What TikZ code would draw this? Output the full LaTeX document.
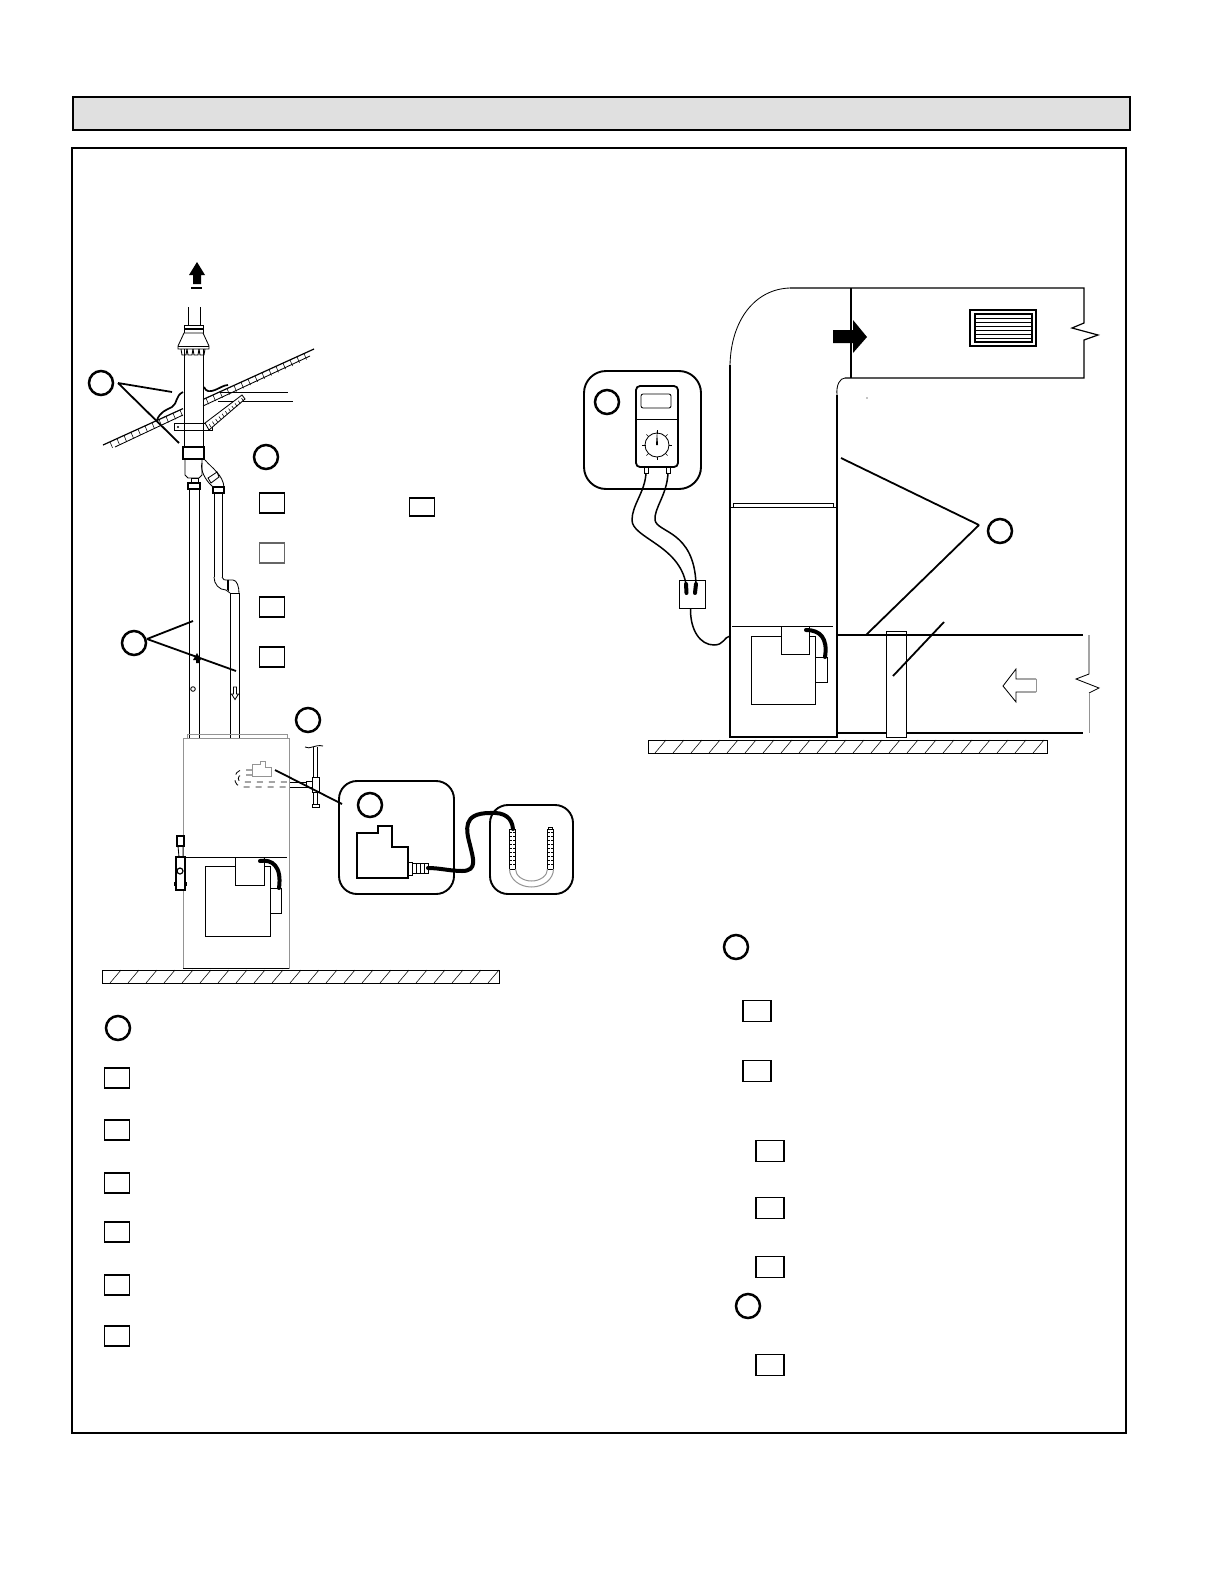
\documentclass[tikz,border=0pt]{standalone}
\usetikzlibrary{calc}
\definecolor{headfill}{HTML}{E0E0E0}
\tikzset{
 tagc/.style={draw,circle,line width=1.25pt,minimum size=12pt,inner sep=0pt,outer sep=0pt},
 sqa/.style={draw,rectangle,line width=0.9pt,minimum width=12.5pt,minimum height=10pt,inner sep=0pt,outer sep=0pt},
 sqb/.style={draw,rectangle,line width=0.9pt,minimum width=14pt,minimum height=10.5pt,inner sep=0pt,outer sep=0pt},
 thin1/.style={line width=0.42pt},
 med/.style={line width=0.6pt},
 lead/.style={line width=0.9pt},
 hose/.style={line width=2pt,line cap=round},
 wire/.style={line width=0.75pt},
 grayl/.style={line width=0.5pt,draw=black!42},
 rbox/.style={line width=0.95pt,rounded corners=9pt},
 hatchl/.style={line width=0.28pt}
}
\begin{document}
\begin{tikzpicture}[x=0.5pt,y=-0.5pt]
\useasboundingbox (0,0) rectangle (1224,1584);
\fill[white] (0,0) rectangle (1224,1584);
% frames
\draw[fill=headfill,line width=1pt] (73,97) rectangle (1130,130);
\draw[line width=1.4pt] (72,148) rectangle (1126,1433);
% ---------- tags and squares
\node[tagc] (cA) at (101,383) {};
\node[tagc] (cB) at (266,457) {};
\node[tagc] (cC) at (134,643) {};
\node[tagc] (cD) at (308,720) {};
\node[tagc] (cE) at (370,805) {};
\node[tagc] (cF) at (607,402) {};
\node[tagc] (cG) at (1000,531) {};
\node[tagc] (cH) at (736,947) {};
\node[tagc] (cI) at (118,1028) {};
\node[tagc] (cJ) at (748,1306) {};
\node[sqa] (s1) at (272,503) {};
\node[sqa,minimum height=9pt] (s2) at (422,507) {};
\node[sqa,draw=black!60] (s3) at (272,553) {};
\node[sqa] (s4) at (272,607) {};
\node[sqa] (s5) at (272,657) {};
\foreach \n/\y in {l1/1078,l2/1130,l3/1183,l4/1232,l5/1285,l6/1336}
  \node[sqa] (\n) at (117,\y) {};
\foreach \n/\x/\y in {r1/757/1011,r2/757/1071,r3/770/1151,r4/770/1208,r5/770/1267,r6/770/1365}
  \node[sqb] (\n) at (\x,\y) {};
% ---------- left: roof
\draw[med] (103,445) -- (183,408.6);
\draw[med] (203,399.5) -- (314,349);
\draw[thin1] (115,447) -- (183,415);
\draw[thin1] (203,406) -- (310,356);
\foreach \x in {110,117,...,180}{\pgfmathsetmacro\yy{445-0.455*(\x-103)}
  \draw[hatchl] (\x,\yy) -- (\x+2.5,\yy+6);}
\foreach \x in {206,213,...,308}{\pgfmathsetmacro\yy{445-0.455*(\x-103)}
  \draw[hatchl] (\x,\yy) -- (\x+2.5,\yy+6);}
\draw[thin1] (220,392) -- (288,392);
\draw[thin1] (218,401) -- (293,401);
% flashing
\draw[line width=0.85pt] (157,420) .. controls (160,412) and (166,410) .. (172,407) .. controls (178,403) and (175,396) .. (183,392);
\draw[line width=0.85pt] (204,387) .. controls (206,392) and (210,392) .. (215,390) .. controls (220,388) and (224,385) .. (228,385);
% vent pipe and exhaust arrow
\begin{scope}[xshift=0.5pt]
\fill (196,262) -- (204,275) -- (200,275) -- (200,284) -- (192,284) -- (192,275) -- (188,275) -- cycle;
\draw[line width=0.9pt] (190,288) -- (201,288);
\draw[thin1] (187,307) -- (187,325) (199,307) -- (199,325);
\draw[thin1] (183,325) rectangle (202,333);
\draw[med] (183,329) -- (202,329);
\draw[thin1,fill=white] (183,333) -- (177,346) -- (177,349) -- (208,349) -- (208,346) -- (202,333) -- cycle;
\draw[thin1] (177,346) -- (208,346);
\foreach \x in {180,186,192,198}
 \draw[thin1] (\x,349) -- (\x+1,355) -- (\x+5,355) -- (\x+6,349);
\draw[thin1] (183,349) -- (183,447) (202,349) -- (202,447);
\draw[thin1] (173,423) rectangle (211,430);
\fill (177,427) circle (1.2);
\draw[thin1,fill=white] (204,423) -- (241,395) -- (244,399) -- (208,430) -- cycle;
\foreach \t in {0.06,0.15,...,1.0}
  \draw[hatchl] ($(206,426)!\t!(242,397)$) -- ++(2,3);
\draw[med] (182,447) rectangle (203,459);
\draw[thin1] (184,459) -- (184,475) -- (187,478) -- (198,478) -- (201,475) -- (201,459);
\draw[thin1] (190,478) rectangle (197,483);
\draw[med] (187,483) rectangle (199,489);
\draw[thin1] (188,489) -- (188,738) (198,489) -- (198,738);
\end{scope}
% branch elbow
\draw[thin1] (205,460) .. controls (212,468) and (223,475) .. (224,487);
\draw[thin1] (202,463) .. controls (200,470) and (205,480) .. (213,487);
\draw[thin1,fill=white] (208,478) -- (217,472) -- (219,477) -- (211,483) -- cycle;
\draw[med] (213,487) rectangle (224,493);
\draw[thin1] (214,493) -- (214,577) (222,493) -- (222,577);
\draw[thin1] (214,577) .. controls (214,584) and (219,590) .. (226,590) -- (230,593);
\draw[thin1] (222,577) .. controls (223,580) and (224,580) .. (228,580);
\draw[thin1] (227,580) -- (227,590) (228.5,580) -- (228.5,591);
\draw[thin1] (228,580) -- (233,580) .. controls (237,580) and (239,587) .. (239,593);
\draw[thin1] (230,593) -- (239,593);
\draw[thin1] (230,593) -- (230,738) (239,593) -- (239,738);
% flow marks in pipes
\fill (197,653) -- (201,660) -- (199,660) -- (199,663) -- (196,663) -- (196,660) -- (193,660) -- cycle;
\draw[thin1] (193,689) circle (2.3);
\draw[thin1,fill=white] (233.5,687) -- (236.5,687) -- (236.5,694) -- (238.5,694) -- (235,699.5) -- (231.5,694) -- (233.5,694) -- cycle;
% leaders left
\coordinate (la1) at (172,392); \coordinate (la2) at (179,443);
\coordinate (la0) at ($(cA.center)+(17,0)$);
\draw[lead] (la0) -- (la1) (la0) -- (la2);
\coordinate (lc0) at ($(cC.center)+(13,-4)$);
\coordinate (lc1) at (193,621); \coordinate (lc2) at (236,671);
\draw[lead] (lc0) -- (lc1) (lc0) -- (lc2);
% left furnace
\draw[grayl] (183,738) rectangle (289,968);
\draw[grayl] (187,738) -- (187,734) -- (287,734) -- (287,738);
\draw[thin1] (183,968) -- (289,968);
\draw[thin1] (186,857) -- (287,857);
\draw[thin1] (235,866) -- (205,866) -- (205,936) -- (270,936) -- (270,866) -- (264,866);
\draw[thin1] (235,857) rectangle (264,885);
\draw[thin1] (270,888) rectangle (281,913);
\draw[hose] (260,861) .. controls (272,859) and (282,866) .. (279,888);
% gas valve
\draw[med] (177,836) rectangle (184,846);
\draw[thin1] (178,846) -- (179,857) (183,846) -- (183,857);
\draw[med,fill=white] (176,857) rectangle (185,890);
\draw[med] (180,871) circle (3);
\draw[line width=1.2pt] (175,882) -- (175,886) (186,882) -- (186,886);
% pressure port & manifold
\draw[thin1] (313,747) -- (313,777) (317,747) -- (317,777);
\draw[thin1] (305,747) .. controls (310,750) and (315,744) .. (323,746);
\draw[thin1] (312,777) rectangle (319,792);
\draw[thin1] (313,792) -- (313,804) (317,792) -- (317,804);
\draw[thin1] (312,804) rectangle (319,807);
\draw[thin1] (306,781) rectangle (312,787);
\draw[thin1] (290,782) -- (306,782) (290,787) -- (306,787);
\draw[thin1,dashed] (252,770) -- (243,770) .. controls (232,770) and (232,787) .. (243,787) -- (290,787);
\draw[thin1,dashed] (252,775) -- (242,775) .. controls (237,775) and (237,782) .. (242,782) -- (290,782);
\draw[grayl,fill=white] (252,764) -- (260,764) -- (260,761) -- (265,761) -- (265,767) -- (271,767) -- (271,776) -- (252,776) -- cycle;
\coordinate (le1) at (275,770); \coordinate (le2) at (342,804);
\draw[lead] (le1) -- (le2);
% manometer boxes
\draw[rbox] (339,781) rectangle (454,894);
\draw[rbox] (490,805) rectangle (573,894);
\draw[med] (357,833) -- (378,833) -- (378,826) -- (392,826) -- (392,847) -- (408,847) -- (408,878) -- (357,878) -- cycle;
\draw[thin1] (408,862) rectangle (412,875);
\foreach \x in {412,416,420,424}
  \draw[thin1] (\x,863.5) rectangle (\x+4,873.5);
\draw[hose] (428,868) .. controls (440,868) and (450,871) .. (462,871) .. controls (478,871) and (473,858) .. (470,845) .. controls (466,830) and (462,813) .. (490,813) .. controls (505,812) and (512,818) .. (513,829);
\draw[thin1] (509.5,829) rectangle (515.5,869);
\draw[thin1] (547.5,829) rectangle (553.5,869);
\draw[thin1] (548.5,827) rectangle (552.5,829);
\foreach \y in {832,836,...,866}{
  \draw[hatchl] (510,\y) -- (512,\y) (513,\y) -- (515.5,\y);
  \draw[hatchl] (548,\y) -- (550,\y) (551,\y) -- (553,\y);}
\draw[grayl] (509.5,869) arc[start angle=180,end angle=0,x radius=22,y radius=18];
\draw[grayl] (515.5,869) arc[start angle=180,end angle=0,x radius=16,y radius=12];
% ---------- ground slabs
\draw[thin1] (102,970) rectangle (499,983);
\foreach \x in {110,128,...,490}
  \draw[hatchl] (\x,983) -- (\x+11,970);
\draw[thin1] (648,740) rectangle (1047,753);
\foreach \x in {655,673,...,1035}
  \draw[hatchl] (\x,753) -- (\x+11,740);
% ---------- right: duct and furnace
\draw[thin1] (730,365) .. controls (731,320) and (755,289) .. (790,288);
\draw[med] (730,365) -- (730,737) -- (837,737) -- (837,395);
\draw[med] (790,288) -- (1084,288) -- (1084,323) -- (1072,328) -- (1098,335) -- (1084,340) -- (1084,378) -- (845,378);
\draw[med] (851,288) -- (851,378);
\draw[thin1] (837,395) .. controls (836,385) and (840,378) .. (845,378);
\fill (867,398) circle (0.7);
\fill (833,330) -- (853,330) -- (853,320) -- (867,337) -- (853,353) -- (853,343) -- (833,343) -- cycle;
\draw[med] (970,310) rectangle (1036,346);
\draw[med] (975,314) rectangle (1032,342);
\foreach \y in {318,322,...,338}
  \draw[thin1] (975,\y) -- (1032,\y);
% thermostat box
\draw[rbox,rounded corners=11pt] (584,371) rectangle (701,489);
\draw[line width=0.9pt,rounded corners=2pt] (636,386) rectangle (678,467);
\draw[thin1] (636,419) -- (678,419);
\draw[thin1,rounded corners=1pt] (641,394) rectangle (671,408);
\draw[thin1] (657,445) circle (12);
\foreach \a in {0,45,...,315}
  \draw[hatchl] ($(657,445)+(\a:11.5)$) -- ($(657,445)+(\a:15)$);
\fill (656,445) -- (657,431) -- (658,445) -- cycle;
\draw[thin1] (644.5,467) rectangle (648,473);
\draw[thin1] (666.5,467) rectangle (670,473);
\draw[wire] (646,473) .. controls (645,492) and (632,505) .. (632,520) .. controls (632,538) and (679,545) .. (686,584);
\draw[wire] (668,473) .. controls (667,495) and (654,508) .. (655,520) .. controls (657,533) and (694,530) .. (696,584);
\draw[thin1] (679,580) rectangle (705,608);
\draw[hose] (686,584) -- (686.5,593);
\draw[hose] (696,584) -- (695,593);
\draw[wire] (690.5,608) .. controls (690,630) and (700,645) .. (714,645) .. controls (724,645) and (724,637) .. (730,636);
% lower furnace
\draw[thin1] (733,507) -- (733,503) -- (833,503) -- (833,507);
\draw[thin1] (730,507) -- (837,507);
\draw[thin1] (732,626) -- (833,626);
\draw[thin1] (781,636) -- (751,636) -- (751,704) -- (815,704) -- (815,636) -- (809,636);
\draw[thin1] (781,626) rectangle (809,654);
\draw[thin1] (815,657) rectangle (827,682);
\draw[hose] (806,630) .. controls (820,630) and (828,638) .. (825,657);
% return duct
\draw[med] (837,635) -- (1083,635);
\draw[med] (837,733) -- (886,733) (906,733) -- (1083,733);
\draw[thin1] (886,631) rectangle (906,737);
\draw[thin1] (1089,635) -- (1089,674) -- (1076,679) -- (1099,688) -- (1089,693);
\draw[grayl] (1089,693) -- (1089,733);
\draw[thin1] (1036,679) -- (1016,679) -- (1016,669) -- (1003,686) -- (1016,702) -- (1016,692) -- (1036,692);
\draw[grayl] (1036,679) -- (1036,692);
% leaders right
\coordinate (lg0) at ($(cG.center)+(-21,-6)$);
\coordinate (lg1) at (841,458); \coordinate (lg2) at (866,635);
\draw[lead] (lg0) -- (lg1) (lg0) -- (lg2);
\coordinate (lf1) at (893,676); \coordinate (lf2) at (944,622);
\draw[lead] (lf1) -- (lf2);
\end{tikzpicture}
\end{document}
